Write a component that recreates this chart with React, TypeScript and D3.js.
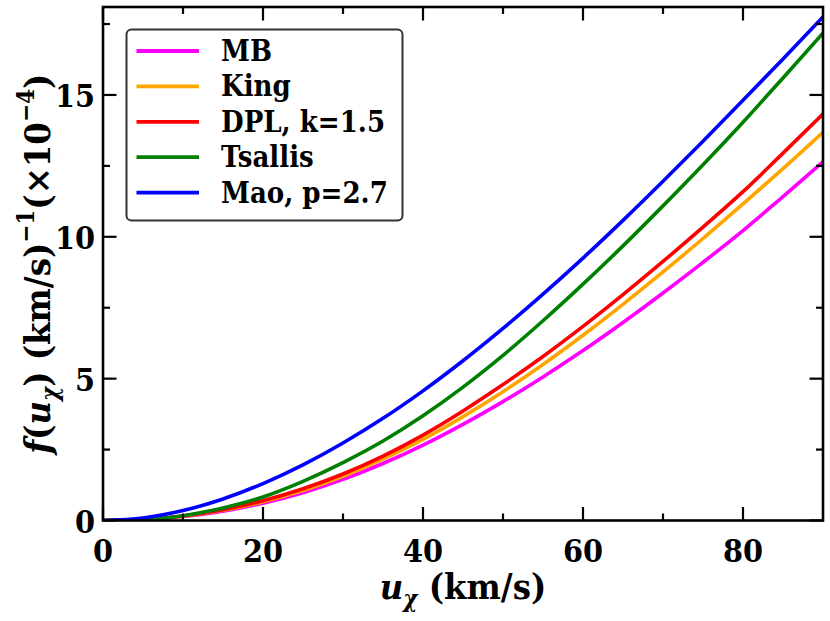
import React from 'react'
import * as d3 from 'd3'

// velocity grid (km/s) and curves, f(u) in units of 1e-4 (km/s)^-1
const uGrid = [0, 5, 10, 15, 20, 25, 30, 35, 40, 45, 50, 55, 60, 65, 70, 75, 80, 85, 90]
const mbVals = [0, 0.03, 0.14, 0.33, 0.61, 0.98, 1.45, 2.01, 2.66, 3.39, 4.19, 5.06, 5.99, 6.98, 8.02, 9.1, 10.22, 11.42, 12.64]
const kingVals = [0, 0.03, 0.15, 0.36, 0.66, 1.06, 1.56, 2.16, 2.86, 3.66, 4.54, 5.5, 6.53, 7.62, 8.76, 9.94, 11.16, 12.4, 13.68]
const dplVals = [0, 0.03, 0.16, 0.38, 0.7, 1.12, 1.64, 2.27, 3.01, 3.86, 4.79, 5.78, 6.84, 7.96, 9.13, 10.34, 11.59, 12.95, 14.33]
const tsallisVals = [0, 0.03, 0.17, 0.44, 0.83, 1.38, 2.04, 2.8, 3.69, 4.7, 5.82, 7.04, 8.33, 9.68, 11.09, 12.54, 14.04, 15.6, 17.18]
const maoVals = [0, 0.09, 0.35, 0.76, 1.3, 1.96, 2.73, 3.6, 4.57, 5.63, 6.77, 7.98, 9.25, 10.58, 11.96, 13.37, 14.81, 16.27, 17.75]

const seriesNames = ['MB', 'King', 'DPL, k=1.5', 'Tsallis', 'Mao, p=2.7']
const seriesColors = ['#ff00ff', '#ffa500', '#ff0000', '#008000', '#0000ff']
const seriesVals = [mbVals, kingVals, dplVals, tsallisVals, maoVals]

const xMajor = [0, 20, 40, 60, 80]
const xMinor = [10, 30, 50, 70]
const yMajor = [0, 5, 10, 15]
const yMinor = [2.5, 7.5, 12.5, 17.5]

const W = 830, H = 621
const left = 103, right = 823, top = 7, bottom = 520.5
const FONT = '"DejaVu Serif", serif'

export default function App() {
  const x = d3.scaleLinear().domain([0, 90]).range([left, right])
  const y = d3.scaleLinear().domain([0, 18.1]).range([bottom, top])
  const line = d3.line<number>()
    .x((_, i) => x(uGrid[i]))
    .y(d => y(d))
    .curve(d3.curveMonotoneX)

  const major = 13.5, minor = 7
  const tickStyle = { stroke: '#000', strokeWidth: 2.2 }
  const cond = { fontStretch: 'condensed', whiteSpace: 'pre' } as React.CSSProperties

  return (
    <div style={{ position: 'fixed', left: 0, top: 0 }}>
      <svg width={W} height={H} style={{ display: 'block', background: '#fff' }}
        fontFamily={FONT} fontWeight="bold">
        <defs>
          <clipPath id="plot"><rect x={left} y={top} width={right - left} height={bottom - top} /></clipPath>
        </defs>

        {/* curves */}
        <g clipPath="url(#plot)">
          {seriesVals.map((vals, i) => (
            <path key={i} d={line(vals) || ''} fill="none" stroke={seriesColors[i]} strokeWidth={3.6} />
          ))}
        </g>

        {/* ticks, inward on all sides */}
        {xMajor.map(t => (
          <g key={'xM' + t}>
            <line x1={x(t)} x2={x(t)} y1={bottom} y2={bottom - major} {...tickStyle} />
            <line x1={x(t)} x2={x(t)} y1={top} y2={top + major} {...tickStyle} />
          </g>
        ))}
        {xMinor.map(t => (
          <g key={'xm' + t}>
            <line x1={x(t)} x2={x(t)} y1={bottom} y2={bottom - minor} {...tickStyle} />
            <line x1={x(t)} x2={x(t)} y1={top} y2={top + minor} {...tickStyle} />
          </g>
        ))}
        {yMajor.map(t => (
          <g key={'yM' + t}>
            <line x1={left} x2={left + major} y1={y(t)} y2={y(t)} {...tickStyle} />
            <line x1={right} x2={right - major} y1={y(t)} y2={y(t)} {...tickStyle} />
          </g>
        ))}
        {yMinor.map(t => (
          <g key={'ym' + t}>
            <line x1={left} x2={left + minor} y1={y(t)} y2={y(t)} {...tickStyle} />
            <line x1={right} x2={right - minor} y1={y(t)} y2={y(t)} {...tickStyle} />
          </g>
        ))}

        {/* frame */}
        <rect x={left} y={top} width={right - left} height={bottom - top} fill="none" stroke="#000" strokeWidth={2.6} />

        {/* tick labels */}
        {xMajor.map(t => (
          <text key={'xl' + t} x={x(t)} y={bottom + 41} textAnchor="middle" fontSize={32} style={cond}>{t}</text>
        ))}
        {yMajor.map(t => (
          <text key={'yl' + t} x={left - 8} y={y(t) + 12} textAnchor="end" fontSize={32} style={cond}>{t}</text>
        ))}

        {/* axis labels */}
        <text x={(left + right) / 2} y={599} textAnchor="middle" fontSize={36} style={cond}>
          <tspan fontStyle="italic">u</tspan>
          <tspan fontStyle="italic" fontSize={24} dy={8}>χ</tspan>
          <tspan dy={-8}>{' (km/s)'}</tspan>
        </text>
        <text transform={`translate(50,${(top + bottom) / 2}) rotate(-90)`} textAnchor="middle" fontSize={36} style={cond}>
          <tspan fontStyle="italic">f</tspan>
          <tspan>(</tspan>
          <tspan fontStyle="italic">u</tspan>
          <tspan fontStyle="italic" fontSize={24} dy={8}>χ</tspan>
          <tspan dy={-8}>{') (km/s)'}</tspan>
          <tspan fontSize={24} dy={-16}>−1</tspan>
          <tspan dy={16}>(×10</tspan>
          <tspan fontSize={24} dy={-16}>−4</tspan>
          <tspan dy={16}>)</tspan>
        </text>

        {/* legend */}
        <g>
          <rect x={126.5} y={29.5} width={276} height={191} rx={5} fill="#fff" stroke="#333" strokeWidth={2} />
          {seriesNames.map((name, i) => {
            const ry = 51 + i * 35.4
            return (
              <g key={name}>
                <line x1={136.5} x2={199} y1={ry} y2={ry} stroke={seriesColors[i]} strokeWidth={3.8} />
                <text x={221} y={ry + 10} fontSize={29} style={cond}>{name}</text>
              </g>
            )
          })}
        </g>
      </svg>
    </div>
  )
}
